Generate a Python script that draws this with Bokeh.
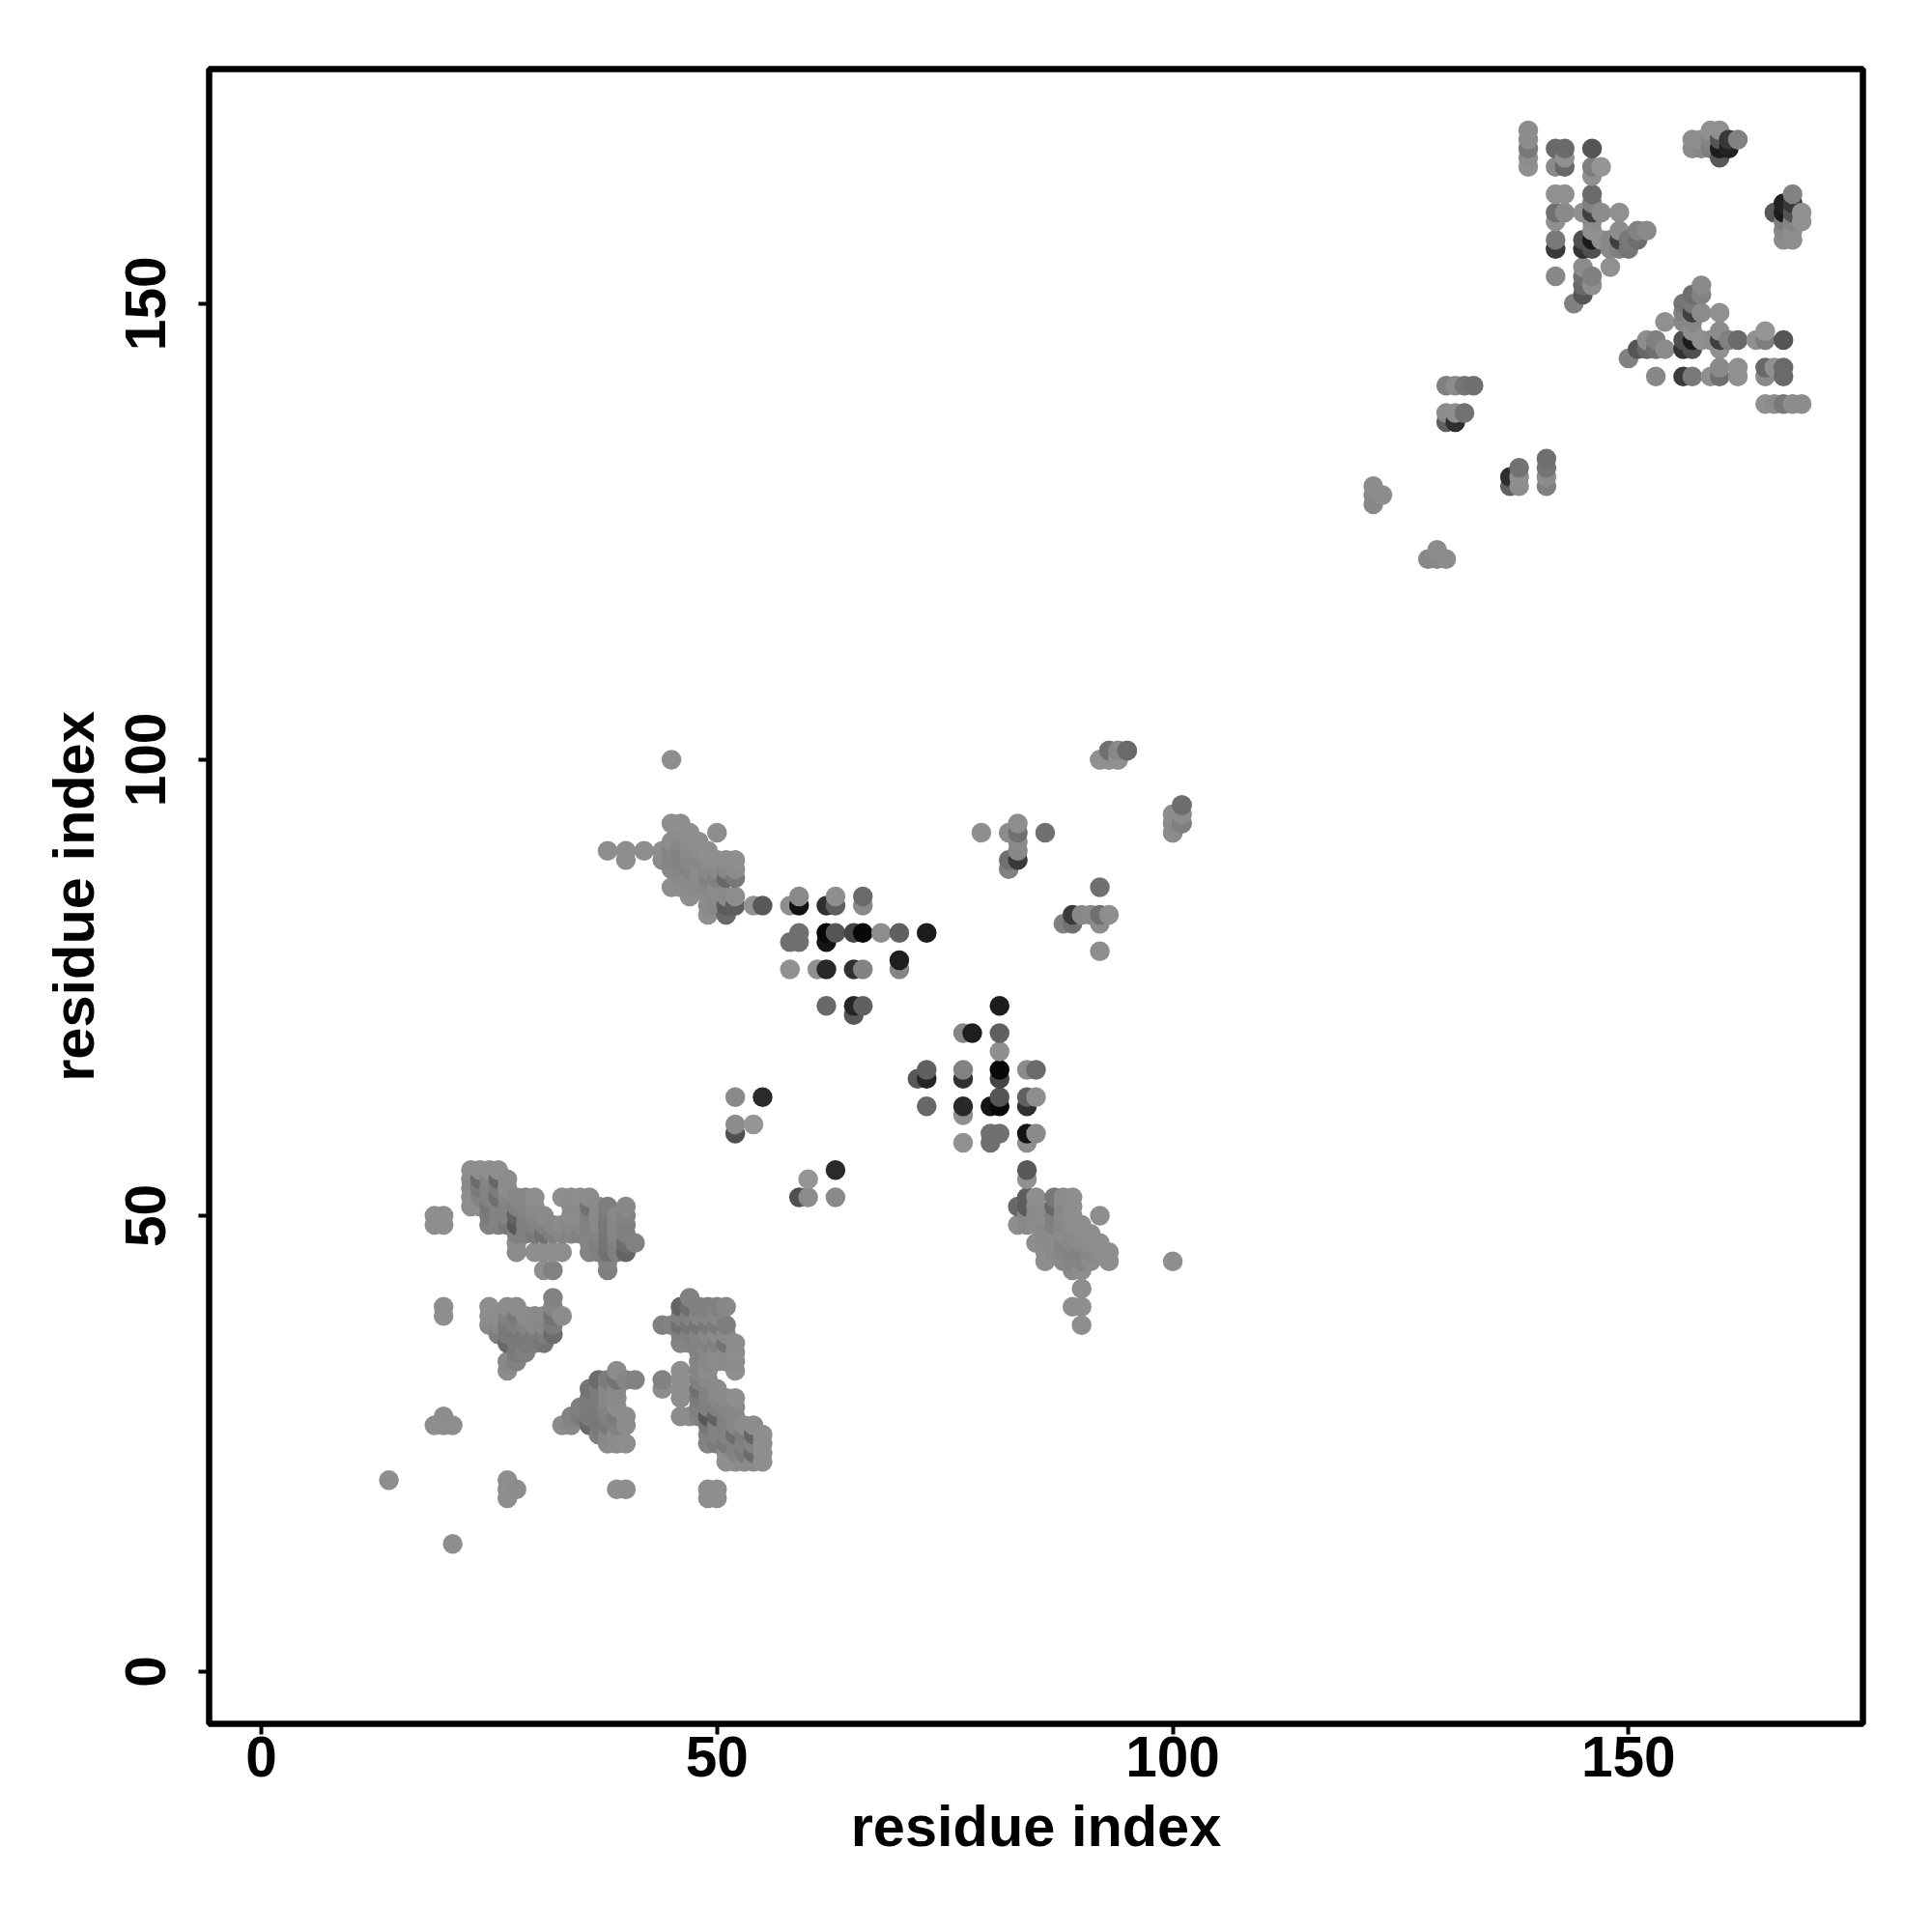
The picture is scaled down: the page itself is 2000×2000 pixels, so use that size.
import numpy as np
from bokeh.plotting import figure
from bokeh.models import ColumnDataSource, FixedTicker, Range1d
from bokeh.embed import file_html
from bokeh.resources import INLINE

tick_values = [0, 50, 100, 150]
axis_title = "residue index"

sparse_i = [14, 19, 20, 20, 21, 19, 19, 20, 20, 20, 20]
sparse_j = [21, 27, 27, 28, 27, 49, 50, 49, 50, 39, 40]
sparse_g = [142, 142, 142, 140, 142, 142, 142, 142, 142, 142, 142]

block_a_i = [23,23,23,23,23, 24,24,24,24,24, 25,25,25,25,25,25,25, 26,26,26,26,26,26,26,
             27,27,27,27,27,27, 28,28,28,28,28,28,28, 29,29,29,29,29, 30,30,30,30,30,30,
             31,31,31,31,31, 32,32,32,32, 33,33,33,33, 34,34,34,34,34, 35,35,35,35,35,
             36,36,36,36,36,36,36, 37,37,37,37,37,37, 38,38,38,38,38,38,38,38,
             39,39,39,39,39, 40,40,40,40,40,40, 41]
block_a_j = [51,52,53,54,55, 51,52,53,54,55, 49,50,51,52,53,54,55, 49,50,51,52,53,54,55,
             49,50,51,52,53,54, 46,47,48,49,50,51,52, 48,49,50,51,52, 46,48,49,50,51,52,
             44,46,48,49,50, 44,46,48,49, 46,48,49,52, 48,49,50,51,52, 48,49,50,51,52,
             46,47,48,49,50,51,52, 46,47,48,49,50,51, 44,45,46,47,48,49,50,51,
             46,47,48,49,50, 46,47,48,49,50,51, 47]
block_a_g = [142,142,140,138,142, 142,132,122,108,142, 130,124,120,130,130,132,142, 130,130,130,110,124,102,142,
             120,130,130,134,140,140, 140,140,130,88,98,128,136, 128,128,128,132,136, 142,122,130,134,138,142,
             142,142,112,130,138, 130,142,128,136, 142,134,140,142, 132,136,140,138,140, 130,136,140,138,142,
             132,132,132,130,128,114,140, 128,128,132,136,138,138, 128,130,112,116,118,120,122,126,
             128,130,134,134,136, 100,110,128,128,130,136, 130]

block_b_i = [25,25,25, 26,26,26, 27,27,27,27,27,27,27, 28,28,28,28,28,28,28,
             29,29,29,29,29, 30,30,30,30, 31,31,31,31, 32,32,32,32,32, 33]
block_b_j = [38,39,40, 37,38,39, 33,34,36,37,38,39,40, 34,35,36,37,38,39,40,
             35,36,37,38,39, 36,37,38,39, 36,37,38,39, 37,38,39,40,41, 39]
block_b_g = [138,140,142, 126,136,140, 140,136,104,122,122,130,140, 130,122,122,120,128,122,140,
             128,122,122,132,140, 124,124,136,138, 116,124,136,138, 108,124,116,134,130, 140]

block_c_i = [38, 40,40, 42, 44,44, 45,45,45,45,45,45, 46,46,46,46,46,46,46,46,
             47,47,47,47,47,47,47,47, 48,48,48,48,48,48, 49,49,49,49,49,49,49,49,
             50,50,50,50,50,50,50, 51,51,51,51,51,51, 52,52,52,52,52, 54, 55]
block_c_j = [90, 89,90, 90, 89,90, 86,88,89,90,91,93, 86,87,88,89,90,91,92,93,
             85,86,87,88,89,90,91,92, 86,87,88,89,90,91, 83,84,85,86,87,88,89,90,
             84,85,86,87,88,89,92, 83,84,85,87,88,89, 84,85,87,88,89, 84, 84]
block_c_g = [142, 142,142, 142, 138,142, 142,136,132,132,140,142, 142,138,134,130,130,136,140,142,
             142,140,138,132,136,138,140,142, 138,140,140,136,140,142, 142,138,140,136,130,136,140,142,
             136,138,140,128,138,142,142, 104,92,138,104,136,142, 94,142,120,140,142, 146, 88]

block_d_i = [45, 52,52,52, 54, 55, 58,58,58, 59,59,59,59, 61, 62,62,62,62,62,
             63,63,63, 65,65,65,65, 66,66,66,66,66, 68, 70,70,70, 73]
block_d_j = [100, 59,60,63, 60, 63, 77,80,84, 80,81,84,85, 77, 73,77,80,81,84,
             81,84,85, 72,73,77,81, 73,77,81,84,85, 81, 77,78,81, 81]
block_d_g = [142, 80,140,138, 149, 42, 144,112,142, 112,112,18,138, 144, 104,40,21,8,48,
             85,96,142, 88,37,48,69, 96,130,8,138,106, 142, 133,30,96, 28]

block_e_i = [79, 82,82,82, 83,83,83,83,83, 86, 92, 93,93, 94,94, 95, 100,100,100, 101,101,101]
block_e_j = [92, 88,89,92, 89,90,91,92,93, 92, 100, 100,101, 100,101, 101, 92,93,94, 93,94,95]
block_e_g = [142, 128,112,140, 58,136,138,112,142, 112, 140, 138,128, 140,140, 110, 144,144,144, 112,136,106]

block_f_i = [122,122,122, 123, 130,130,130, 131,131,131, 132,132, 133, 139,139,139,139,139]
block_f_j = [128,129,130, 129, 137,138,141, 137,138,141, 138,141, 141, 165,166,167,168,169]
block_f_g = [136,136,140, 140, 96,140,128, 46,142,140, 114,117, 112, 144,140,120,140,140]

block_g_i = [142,142,142,142,142,142,142,142, 143,143,143,143,143, 144,
             145,145,145,145,145,145,145, 146,146,146,146,146,146,146,146,146,146,146,146,
             147,147,147, 148,148,148, 149,149,149,149, 150,150, 151,151, 152]
block_g_j = [153,156,157,159,160,162,165,167, 160,162,165,166,167, 150,
             151,152,153,154,156,157,160, 152,153,156,157,158,159,160,161,162,164,165,167,
             157,160,165, 154,156,157, 156,157,158,160, 156,157, 157,158, 158]
block_g_g = [136,58,122,144,112,144,138,106, 138,144,104,144,106, 128,
             85,104,112,140,51,80,144, 142,128,80,28,144,140,64,128,106,144,126,85,
             144,140,149, 144,136,136, 128,64,140,144, 117,120, 110,130, 138]

block_h_i = [157,157, 158,158, 159,159,159, 160,160,160,160, 161,161, 162]
block_h_j = [167,168, 167,168, 167,168,169, 166,167,168,169, 167,168, 168]
block_h_g = [140,142, 136,142, 126,133,144, 88,28,85,144, 34,56, 130]

groups = [
    (sparse_i, sparse_j, sparse_g), (block_a_i, block_a_j, block_a_g),
    (block_b_i, block_b_j, block_b_g), (block_c_i, block_c_j, block_c_g),
    (block_d_i, block_d_j, block_d_g), (block_e_i, block_e_j, block_e_g),
    (block_f_i, block_f_j, block_f_g), (block_g_i, block_g_j, block_g_g),
    (block_h_i, block_h_j, block_h_g),
]
res_i = np.concatenate([g[0] for g in groups])
res_j = np.concatenate([g[1] for g in groups])
gray = np.concatenate([g[2] for g in groups])

# Both triangles of the map, later residues painted over earlier ones.
xs = np.concatenate([res_i, res_j])
ys = np.concatenate([res_j, res_i])
gs = np.concatenate([gray, gray])
order = np.lexsort((ys, xs))
colors = ["#%02x%02x%02x" % (int(v), int(v), int(v)) for v in gs[order]]
source = ColumnDataSource(dict(x=xs[order], y=ys[order], color=colors))

p = figure(width=1984, height=1984, output_backend="svg", toolbar_location=None,
           x_range=Range1d(-5.72, 175.72), y_range=Range1d(-5.72, 175.72),
           min_border_left=216, min_border_right=56, min_border_top=71, min_border_bottom=200,
           background_fill_color="white", border_fill_color="white")
p.grid.visible = False
p.outline_line_color = "black"
p.outline_line_width = 6.5

p.scatter("x", "y", source=source, size=20.5, color="color", line_color=None)

for ax in (p.xaxis[0], p.yaxis[0]):
    ax.ticker = FixedTicker(ticks=tick_values)
    ax.axis_line_color = None
    ax.major_tick_line_color = "black"
    ax.major_tick_line_width = 4
    ax.major_tick_out = 11
    ax.major_tick_in = 0
    ax.minor_tick_line_color = None
    ax.major_label_text_font = "Liberation Sans"
    ax.major_label_text_font_style = "bold"
    ax.major_label_text_font_size = "58.5px"
    ax.major_label_text_color = "black"
    ax.axis_label = axis_title
    ax.axis_label_text_font = "Liberation Sans"
    ax.axis_label_text_font_style = "bold"
    ax.axis_label_text_font_size = "59.5px"
    ax.axis_label_text_color = "black"

p.xaxis[0].major_label_standoff = 2
p.xaxis[0].axis_label_standoff = 15
p.yaxis[0].major_label_orientation = "vertical"
p.yaxis[0].major_label_standoff = 34
p.yaxis[0].axis_label_standoff = 18

open("out.html", "w").write(file_html(p, INLINE))
